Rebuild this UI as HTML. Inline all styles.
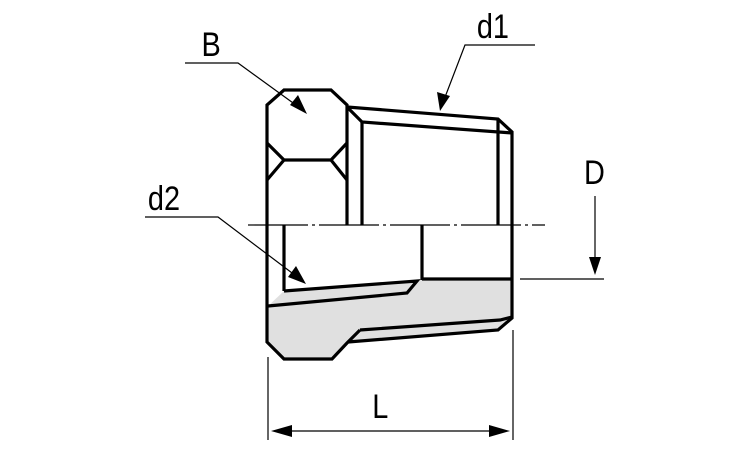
<!DOCTYPE html>
<html><head><style>html,body{margin:0;padding:0;background:#fff}svg{display:block}</style></head><body>
<svg width="750" height="450" viewBox="0 0 750 450" xmlns="http://www.w3.org/2000/svg" font-family="Liberation Sans, sans-serif">
<polygon points="267,307 284,291 417,281 422,279 512,279 512,317 498,330 348,342 332,359 284,359 267,342" fill="#e0e0e0"/>
<g fill="none" stroke="#000" stroke-width="3.2" stroke-linejoin="miter">
<polyline points="347,225 347,105 331,90 284,90 267,105 267,342 284,359 332,359 347,343 360,330"/>
<polyline points="267,143 284,160 331,160 347,143"/>
<polyline points="267,180 284,160"/><polyline points="347,180 331,160"/>
<polyline points="347,107 498,119 512,132 512,318 498,330 348,342"/>
<polyline points="347,107 362,122 512,133"/>
<line x1="362" y1="122" x2="362" y2="225"/>
<line x1="498" y1="119" x2="498" y2="225"/>
<line x1="284" y1="225" x2="284" y2="291"/>
<line x1="422" y1="225" x2="422" y2="280"/>
<polyline points="284,291 417,281 407,293 268,306"/>
<line x1="422" y1="279" x2="512" y2="279"/>
<polyline points="360,330 500,320 512,317"/>
</g>
<line x1="248" y1="225" x2="545" y2="225" stroke="#000" stroke-width="1.2" stroke-dasharray="60,4,3,4"/>
<g stroke="#000" stroke-width="1.2" fill="none">
<polyline points="185,63 238,63 300,108"/>
<polyline points="535,45 465,45 442,105"/>
<polyline points="145,217 218,217 300,279"/>
<line x1="595" y1="196" x2="595" y2="270"/>
<line x1="520" y1="279" x2="604" y2="279"/>
<line x1="268" y1="357" x2="268" y2="440"/>
<line x1="513" y1="330" x2="513" y2="440"/>
<line x1="280" y1="431" x2="500" y2="431"/>
</g>
<g fill="#000">
<polygon points="307,114 290,105 298,95"/>
<polygon points="440,111 437,92 450,96"/>
<polygon points="306,284 288,277 296,266"/>
<polygon points="595,275 589,257 601,257"/>
<polygon points="271,431 292,425 292,437"/>
<polygon points="510,431 489,425 489,437"/>
</g>
<g font-size="34" fill="#000" transform="scale(0.85,1)">
<text x="237" y="56">B</text>
<text x="561" y="38">d1</text>
<text x="174" y="210">d2</text>
<text x="687" y="184">D</text>
<text x="438" y="418">L</text>
</g>
</svg>
</body></html>
